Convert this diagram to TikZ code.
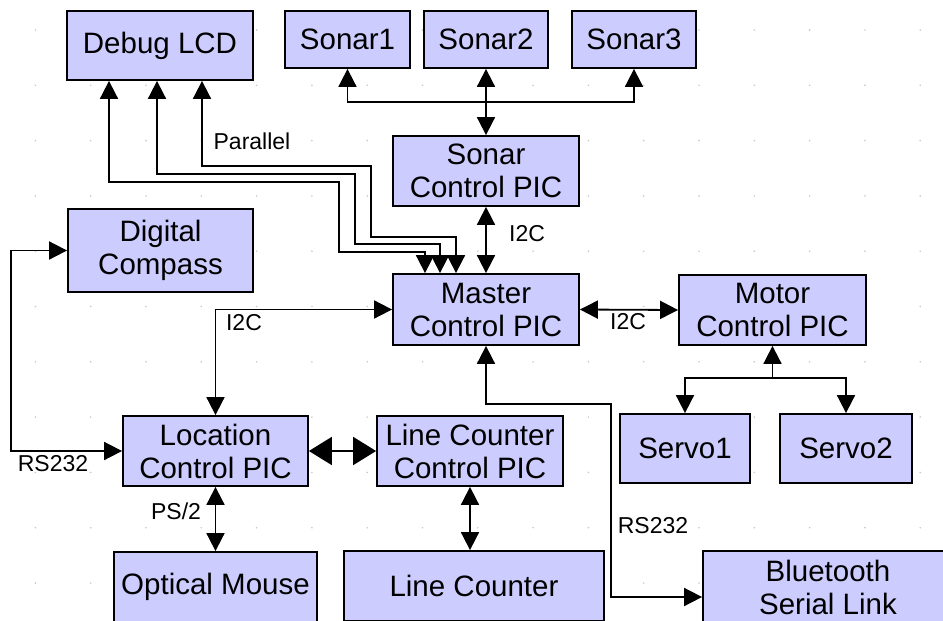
\documentclass[tikz,border=0pt]{standalone}
\usepackage{fontspec}
\setmainfont{Liberation Sans}
\usepackage{tikz}
\usetikzlibrary{arrows.meta}
\usetikzlibrary{positioning}
\definecolor{boxfill}{RGB}{204,204,255}
\definecolor{dotgray}{RGB}{200,200,200}
\newcommand\blkfont{\fontsize{29.5}{33}\selectfont}
\newcommand\lblfont{\fontsize{23}{26}\selectfont}
\tikzset{
  blk/.style={draw=black, line width=1.8pt, fill=boxfill, align=center,
    inner sep=0pt, font=\blkfont},
  lbl/.style={inner sep=0pt, font=\lblfont},
  wire/.style={line width=1.8pt},
  dbl/.style={wire, {Triangle[length=18pt,width=18pt]}-{Triangle[length=18pt,width=18pt]}},
  sgl/.style={wire, -{Triangle[length=18pt,width=18pt]}},
  bigdbl/.style={wire, {Triangle[length=23pt,width=28pt]}-{Triangle[length=23pt,width=28pt]}}
}

\begin{document}
\begin{tikzpicture}[x=1pt,y=-1pt]
\useasboundingbox (0,0) rectangle (943,621);
\clip (0,0) rectangle (943,621);
\foreach \i in {0,...,16}
  \foreach \j in {0,...,10}
    \fill[dotgray] (35.4+55.3*\i,30+55.3*\j) circle (0.9pt);
\path
  coordinate (sbus) at (486,102)
  coordinate (vbus) at (772.5,378)
  coordinate (btcorner) at (611,404)
  ;
\node[blk, minimum width=186, minimum height=69] (lcd) at (160,45.5) {Debug LCD};
\node[blk, minimum width=125, minimum height=57] (sonarA) at (347.5,39.5) {Sonar1};
\node[blk, minimum width=124, minimum height=57] (sonarB) at (486,39.5) {Sonar2};
\node[blk, minimum width=124, minimum height=57] (sonarC) at (634,39.5) {Sonar3};
\node[blk, minimum width=186, minimum height=70] (sonarpic) at (486,171) {Sonar\\Control PIC};
\node[blk, minimum width=186, minimum height=71] (master) at (486,309.5) {Master\\Control PIC};
\node[blk, minimum width=187, minimum height=70] (motor) at (772.5,310) {Motor\\Control PIC};
\node[blk, minimum width=130, minimum height=69] (servoA) at (685,448.5) {Servo1};
\node[blk, minimum width=132, minimum height=69] (servoB) at (846,448.5) {Servo2};
\node[blk, minimum width=185, minimum height=83] (compass) at (160.5,250.5) {Digital\\Compass};
\node[blk, minimum width=185, minimum height=70] (locpic) at (215.5,451) {Location\\Control PIC};
\node[blk, minimum width=186, minimum height=70] (linepic) at (470,451) {Line Counter\\Control PIC};
\node[blk, minimum width=260, minimum height=70] (linecnt) at (474,586) {Line Counter};
\node[blk, minimum width=203, minimum height=70] (mouse) at (215.5,587) {Optical Mouse};
\node[blk, minimum width=250, minimum height=72] (bt) at (828,587) {Bluetooth\\Serial Link};
\draw[dbl] (sonarA.south) |- (sbus) -| (sonarC.south);
\draw[dbl] (sonarB.south) -- (sonarpic.north);
\draw[dbl] (sonarpic.south) -- (master.north);
\draw[dbl] (master.east) -- (motor.west);
\draw[sgl] (vbus) -- (motor.south);
\draw[dbl] (servoA.north) |- (vbus) -| (servoB.north);
\draw[dbl] ([xshift=-51pt]lcd.south) |- (339,182) |- (425,252) -- ([xshift=-61pt]master.north);
\draw[dbl] ([xshift=-3pt]lcd.south) |- (355,174) |- (440,244) -- ([xshift=-46pt]master.north);
\draw[dbl] ([xshift=42pt]lcd.south) |- (371,166) |- (456,237) -- ([xshift=-30pt]master.north);
\draw[dbl] (compass.west) -- ++(-56,0) |- (locpic.west);
\draw[dbl] (master.west) -| (locpic.north);
\draw[bigdbl] (locpic.east) -- (linepic.west);
\draw[dbl] (locpic.south) -- (mouse.north);
\draw[dbl] (linepic.south) -- (linepic.south |- linecnt.north);
\draw[dbl] (master.south) |- (btcorner) |- ([yshift=-10pt]bt.west);
\node[lbl] (lblpar) at (252,141) {Parallel};
\node[lbl] (lblsonar) at (527,234) {I2C};
\node[lbl] (lblmotor) at (628,322) {I2C};
\node[lbl] (lblloc) at (244,323) {I2C};
\node[lbl] (lblrsa) at (53,464) {RS232};
\node[lbl] (lblps) at (176,511) {PS/2};
\node[lbl] (lblrsb) at (653,526) {RS232};
\end{tikzpicture}
\end{document}
